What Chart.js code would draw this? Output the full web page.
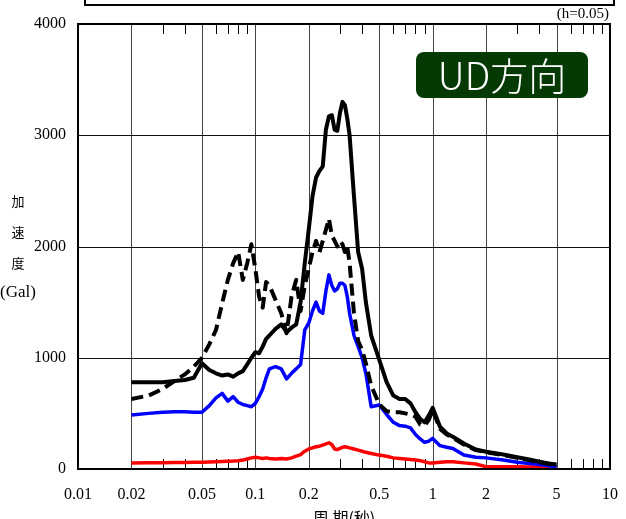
<!DOCTYPE html>
<html>
<head>
<meta charset="utf-8">
<script src="https://cdn.jsdelivr.net/npm/chart.js@4.4.1/dist/chart.umd.min.js"></script>
<style>
  html, body { margin: 0; padding: 0; background: #fff; }
</style>
</head>
<body>
<canvas id="chart" width="626" height="519"></canvas>
<script>
// Periods (sec) shared by every curve
const periods = [0.02, 0.025, 0.03, 0.035, 0.04, 0.045, 0.05, 0.055, 0.06, 0.065, 0.07, 0.075, 0.08, 0.085, 0.09, 0.095,
  0.1, 0.105, 0.11, 0.115, 0.12, 0.13, 0.14, 0.15, 0.16, 0.17, 0.18, 0.19, 0.2, 0.21, 0.22, 0.23, 0.24, 0.25, 0.26, 0.27,
  0.28, 0.29, 0.3, 0.31, 0.32, 0.33, 0.34, 0.36, 0.38, 0.4, 0.42, 0.45, 0.5, 0.55, 0.6, 0.65, 0.7, 0.75, 0.8, 0.85, 0.9,
  0.95, 1.0, 1.1, 1.2, 1.3, 1.5, 1.75, 2.0, 2.5, 3.0, 3.5, 4.0, 4.5, 5.0];

// Acceleration response (Gal)
const blackSolid = [780, 780, 780, 790, 800, 820, 950, 890, 860, 840, 850, 830, 860, 880, 940, 1000,
  1050, 1040, 1100, 1170, 1200, 1260, 1300, 1230, 1270, 1300, 1500, 1850, 2150, 2450, 2620, 2680, 2720, 3050, 3170, 3180,
  3050, 3040, 3200, 3300, 3270, 3150, 3000, 2450, 1950, 1800, 1500, 1200, 980, 780, 660, 630, 630, 590, 510, 450, 420,
  480, 550, 380, 320, 290, 230, 175, 155, 130, 105, 85, 65, 50, 40];

const blackDashed = [630, 660, 720, 790, 850, 920, 1000, 1120, 1250, 1490, 1700, 1850, 1950, 1700, 1850, 2020,
  1800, 1550, 1450, 1680, 1650, 1520, 1400, 1220, 1550, 1700, 1420, 1650, 1800, 1950, 2050, 1950, 2050, 2150, 2250, 2100,
  2050, 2000, 2050, 2020, 1950, 2000, 1850, 1400, 1150, 1070, 950, 750, 580, 520, 510, 510, 500, 490, 470, 400, 390,
  440, 530, 360, 310, 280, 220, 170, 150, 125, 100, 80, 60, 48, 38];

const blueLine = [485, 500, 510, 515, 515, 510, 510, 570, 640, 680, 610, 650, 600, 580, 570, 560,
  590, 650, 720, 820, 900, 920, 900, 810, 860, 900, 940, 1250, 1310, 1420, 1500, 1420, 1400, 1600, 1745, 1650,
  1600, 1620, 1670, 1670, 1650, 1550, 1400, 1200, 1100, 1000, 860, 560, 575, 490, 420, 390, 385, 370, 310, 270, 240,
  250, 275, 210, 195, 185, 125, 105, 100, 80, 60, 50, 40, 30, 20];

const redLine = [55, 56, 57, 58, 58, 60, 60, 62, 65, 68, 70, 72, 75, 80, 90, 100,
  105, 100, 95, 100, 95, 90, 95, 90, 100, 115, 130, 160, 180, 190, 200, 205, 215, 225, 235, 220,
  180, 175, 185, 195, 200, 195, 190, 180, 170, 160, 150, 140, 125, 115, 100, 95, 90, 85, 80, 75, 65,
  55, 55, 60, 65, 65, 55, 45, 20, 20, 20, 18, 17, 15, 15];

// Axis labels
const xTickLabels = [0.01, 0.02, 0.05, 0.1, 0.2, 0.5, 1, 2, 5, 10];
const xGridValues = [0.02, 0.05, 0.1, 0.2, 0.5, 1, 2, 5];
const yGridValues = [1000, 2000, 3000];

const toPoints = (arr) => periods.map((t, i) => ({ x: t, y: arr[i] }));

const serif = "'Liberation Serif', 'DejaVu Serif', serif";
const jp = "'Noto Sans CJK JP', sans-serif";

const decorations = {
  id: 'decorations',
  beforeDatasetsDraw(chart) {
    const { ctx, chartArea: a, scales: { x, y } } = chart;
    ctx.save();
    // vertical grid
    ctx.lineWidth = 1;
    ctx.strokeStyle = '#444';
    xGridValues.forEach((v) => {
      const px = Math.round(x.getPixelForValue(v)) + 0.5;
      ctx.beginPath();
      ctx.moveTo(px, a.top);
      ctx.lineTo(px, a.bottom);
      ctx.stroke();
    });
    // horizontal grid
    ctx.strokeStyle = '#111';
    yGridValues.forEach((v) => {
      const py = Math.round(y.getPixelForValue(v)) + 0.5;
      ctx.beginPath();
      ctx.moveTo(a.left, py);
      ctx.lineTo(a.right, py);
      ctx.stroke();
    });
    // minor ticks, inside top and bottom edges
    ctx.strokeStyle = '#000';
    [0.01, 0.1, 1].forEach((d) => {
      [3, 4, 6, 7, 8, 9].forEach((m) => {
        const px = Math.round(x.getPixelForValue(d * m)) + 0.5;
        ctx.beginPath();
        ctx.moveTo(px, a.top);
        ctx.lineTo(px, a.top + 10);
        ctx.moveTo(px, a.bottom);
        ctx.lineTo(px, a.bottom - 10);
        ctx.stroke();
      });
    });
    ctx.restore();
  },
  afterDatasetsDraw(chart) {
    const { ctx, chartArea: a } = chart;
    ctx.save();
    // plot frame
    ctx.lineWidth = 2;
    ctx.strokeStyle = '#000';
    ctx.strokeRect(a.left, a.top, a.right - a.left, a.bottom - a.top);

    // box cut off at top
    ctx.strokeRect(85, -10, 529, 15);

    // damping note
    ctx.fillStyle = '#000';
    ctx.font = '15px ' + serif;
    ctx.textAlign = 'right';
    ctx.textBaseline = 'middle';
    ctx.fillText('(h=0.05)', 609, 14);

    // UD label
    ctx.fillStyle = '#053a05';
    ctx.beginPath();
    ctx.roundRect(416, 52, 172, 46, 8);
    ctx.fill();
    ctx.fillStyle = '#fff';
    ctx.font = '300 38px ' + jp;
    ctx.textAlign = 'center';
    ctx.fillText('UD方向', 502, 76);

    // y title
    ctx.fillStyle = '#000';
    ctx.font = '13px ' + jp;
    ctx.fillText('加', 18, 201);
    ctx.fillText('速', 18, 232);
    ctx.fillText('度', 18, 263);
    ctx.font = '17px ' + serif;
    ctx.fillText('(Gal)', 18, 293);

    // x title
    ctx.font = '16px ' + jp;
    ctx.fillText('周 期(秒)', 344, 518);
    ctx.restore();
  }
};

new Chart(document.getElementById('chart'), {
  type: 'line',
  data: {
    datasets: [
      { label: 'solid', data: toPoints(blackSolid), borderColor: '#000', borderWidth: 4 },
      { label: 'dashed', data: toPoints(blackDashed), borderColor: '#000', borderWidth: 4, borderDash: [12, 6] },
      { label: 'blue', data: toPoints(blueLine), borderColor: '#0000ff', borderWidth: 3.5 },
      { label: 'red', data: toPoints(redLine), borderColor: '#ff0000', borderWidth: 3.5 }
    ]
  },
  options: {
    responsive: false,
    animation: false,
    devicePixelRatio: 1,
    layout: { padding: { top: 24, right: 14, left: 0, bottom: 0 } },
    elements: { point: { radius: 0 }, line: { tension: 0, borderJoinStyle: 'round' } },
    plugins: { legend: { display: false }, tooltip: { enabled: false } },
    scales: {
      x: {
        type: 'logarithmic',
        min: 0.01,
        max: 10,
        afterBuildTicks: (scale) => { scale.ticks = xTickLabels.map((v) => ({ value: v })); },
        afterFit: (scale) => { scale.height = 50; },
        grid: { display: false },
        border: { display: false },
        ticks: {
          autoSkip: false,
          maxRotation: 0,
          padding: 8,
          color: '#000',
          font: { family: serif, size: 16 },
          callback: (v) => String(v)
        }
      },
      y: {
        min: 0,
        max: 4000,
        afterFit: (scale) => { scale.width = 78; },
        grid: { display: false, drawTicks: false },
        border: { display: false },
        ticks: {
          stepSize: 1000,
          padding: 12,
          color: '#000',
          font: { family: serif, size: 16 },
          callback: (v) => String(v)
        }
      }
    }
  },
  plugins: [decorations]
});
</script>
</body>
</html>
